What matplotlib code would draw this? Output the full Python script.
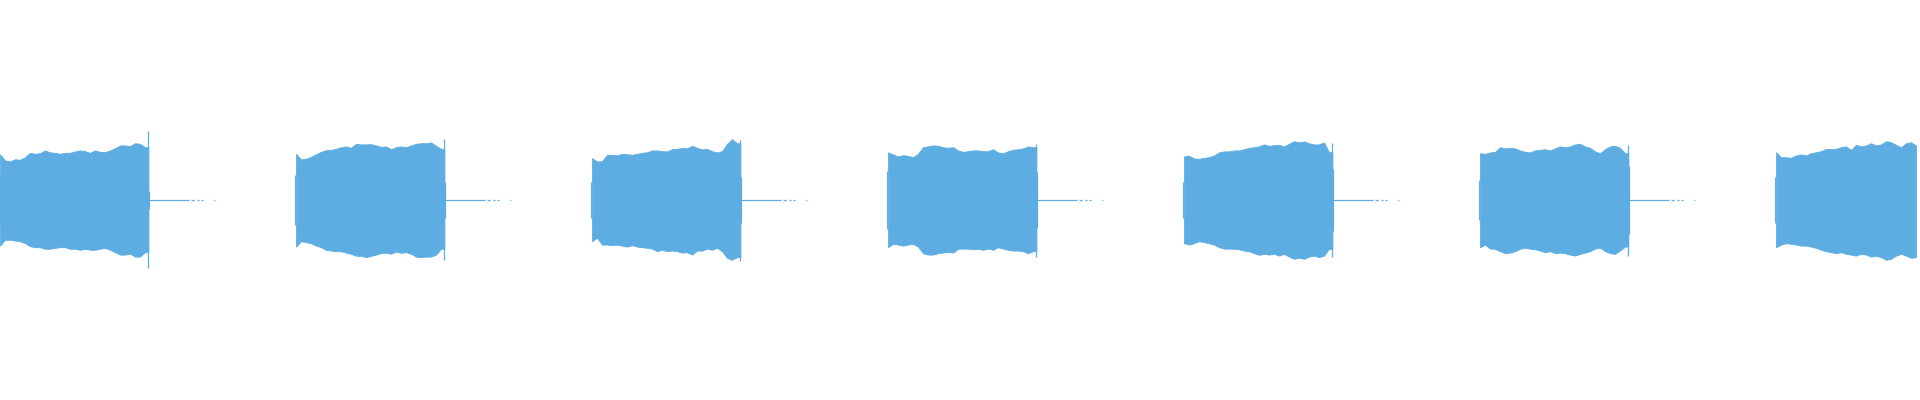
import numpy as np
import matplotlib
matplotlib.use("Agg")
import matplotlib.pyplot as plt

COLOR = "#5DADE2"

# one beep per second, envelope in % of full scale
onsets = [0, 1, 2, 3, 4, 5, 6]
spike_t = 0.5044     # click at the end of each beep (s after onset)
endcol_t = 0.508

b1_up = [22.8, 19.8, 19.3, 20.4, 20.1, 21.4, 23.6, 23.1, 23.4, 24.8, 23.8, 23.6, 23.1, 23.6, 23.6,
         24.3, 24.8, 24.4, 23.6, 24.8, 24.1, 23.9, 24.8, 25.9, 27.3, 27.3, 26.9, 28.4, 28.1, 26.4]
b1_lo = [22.8, 19.9, 19.9, 20.3, 20.6, 21.6, 23.1, 23.6, 23.6, 24.4, 24.4, 23.9, 23.6, 23.6, 24.4,
         24.4, 24.9, 24.4, 24.9, 24.9, 24.4, 23.9, 24.9, 26.1, 27.3, 27.3, 26.9, 28.3, 28.3, 26.1]

b2_up = [23.1, 20.3, 20.6, 21.6, 22.9, 24.1, 24.9, 25.1, 25.6, 26.4, 26.8, 26.1, 28.1, 27.8, 27.8,
         27.9, 27.3, 26.6, 26.8, 25.4, 26.4, 26.8, 26.4, 27.3, 28.1, 28.4, 28.4, 28.8, 27.1, 25.6]
b2_lo = [23.3, 20.6, 21.1, 21.6, 22.8, 23.6, 24.9, 25.3, 25.6, 25.6, 26.3, 26.9, 27.9, 27.9, 28.6,
         27.9, 27.3, 26.6, 26.3, 26.9, 25.8, 26.4, 26.1, 26.9, 28.3, 28.6, 28.3, 28.3, 27.3, 24.4]

b3_up = [20.9, 19.3, 19.4, 22.6, 22.6, 22.3, 23.1, 22.9, 22.6, 23.1, 23.6, 23.9, 24.8, 24.8, 24.4,
         24.3, 25.4, 25.6, 26.1, 25.8, 27.1, 26.1, 25.3, 25.6, 24.4, 23.8, 24.4, 28.1, 30.4, 28.4]
b3_lo = [20.6, 18.9, 22.3, 22.3, 22.6, 22.3, 22.8, 23.3, 22.6, 23.3, 23.6, 23.9, 24.3, 25.6, 24.9,
         25.6, 25.3, 25.6, 26.3, 26.1, 27.3, 25.3, 25.3, 24.3, 24.9, 23.9, 25.6, 28.9, 29.9, 28.6]

b4_up = [23.8, 22.8, 21.8, 22.4, 22.1, 21.4, 23.1, 26.4, 26.8, 27.3, 27.1, 26.4, 26.1, 26.4, 24.8,
         24.1, 24.4, 24.8, 24.8, 24.4, 24.4, 25.4, 23.8, 23.4, 24.4, 25.1, 25.4, 25.8, 26.8, 26.4]
b4_lo = [23.6, 21.9, 22.3, 22.8, 22.3, 21.9, 23.3, 26.6, 27.3, 27.3, 26.6, 26.3, 25.9, 26.3, 24.4,
         24.3, 24.3, 24.6, 24.4, 24.9, 24.3, 24.9, 23.6, 24.3, 24.9, 25.3, 25.3, 25.6, 26.6, 25.6]

b5_up = [21.8, 22.1, 20.8, 20.6, 21.1, 21.4, 22.3, 23.8, 24.3, 24.3, 24.8, 24.8, 25.4, 26.1, 26.4,
         26.8, 27.8, 27.1, 27.4, 27.6, 26.8, 28.1, 29.4, 28.8, 29.3, 28.4, 27.8, 27.8, 28.8, 23.9]
b5_lo = [21.6, 22.3, 21.6, 20.6, 21.1, 21.6, 22.3, 23.6, 24.3, 24.3, 24.4, 24.6, 25.3, 25.6, 26.6,
         27.4, 26.9, 27.3, 26.9, 27.8, 26.9, 28.3, 29.4, 28.9, 29.4, 28.3, 27.8, 28.6, 27.8, 24.4]

b6_up = [23.4, 23.1, 23.8, 24.1, 26.4, 25.8, 26.1, 25.8, 24.8, 24.1, 23.8, 24.8, 25.1, 25.4, 24.8,
         25.8, 26.8, 26.4, 26.8, 27.8, 28.1, 26.8, 26.1, 24.3, 23.4, 25.4, 26.8, 27.1, 26.1, 23.4]
b6_lo = [23.6, 22.3, 24.3, 24.4, 25.6, 26.6, 26.3, 25.6, 24.4, 23.9, 24.3, 24.6, 25.3, 26.1, 25.6,
         26.6, 26.3, 26.6, 27.3, 27.8, 26.9, 26.3, 25.6, 24.3, 23.9, 25.6, 26.6, 26.9, 25.3, 23.3]

b7_up = [23.9, 21.4, 21.4, 21.1, 22.3, 22.8, 22.3, 23.4, 23.9, 24.4, 25.6, 25.4, 25.6, 26.4, 26.8,
         25.1, 27.6, 26.8, 27.3, 28.4, 27.3, 27.8, 29.4, 28.9, 27.6, 26.4, 28.4, 28.9, 27.3]
b7_lo = [23.6, 22.3, 21.6, 21.9, 22.3, 22.8, 22.8, 23.3, 23.9, 24.9, 25.6, 26.1, 26.6, 26.1, 26.9,
         27.3, 27.8, 26.9, 27.3, 28.3, 27.9, 28.6, 29.9, 29.4, 27.8, 26.9, 27.8, 28.9, 28.6]

start_amp = [12.0, 12.3, 8.9, 14.6, 9.2, 9.8, 11.5]
spike_up = [34.3, 30.3, 29.8, 27.8, 28.4, 27.3]
spike_lo = [34.1, 29.9, 30.3, 28.3, 28.6, 27.8]
end_amp = [4.4, 8.8, 11.3, 14.1, 15.6, 17.0]

# low-level residue after each beep (start, end in s after onset)
tail_segs = [(0.507, 0.642), (0.649, 0.659), (0.668, 0.676), (0.682, 0.689), (0.726, 0.730)]

ups = [b1_up, b2_up, b3_up, b4_up, b5_up, b6_up, b7_up]
los = [b1_lo, b2_lo, b3_lo, b4_lo, b5_lo, b6_lo, b7_lo]

px = 1 / 296.0  # seconds per pixel column
env_t = px + np.arange(30) * 5 * px

fig = plt.figure(figsize=(19.2, 4), dpi=100)
ax = fig.add_axes([0, 0, 1, 1])

for i, t0 in enumerate(onsets):
    up = np.array(ups[i]) / 100
    lo = np.array(los[i]) / 100
    t = t0 + env_t[:len(up)]
    if i < len(spike_up):
        t = np.append(t, t0 + spike_t)
        up = np.append(up, up[-1])
        lo = np.append(lo, lo[-1])
    ax.fill_between(t, -lo, up, color=COLOR, lw=0.6, edgecolor=COLOR)
    ax.vlines(t0 + 0.5 * px, -start_amp[i] / 100, start_amp[i] / 100, color=COLOR, lw=0.75)
    if i < len(spike_up):
        ax.vlines(t0 + spike_t, -spike_lo[i] / 100, spike_up[i] / 100, color=COLOR, lw=0.9)
        ax.vlines(t0 + endcol_t, -end_amp[i] / 100, end_amp[i] / 100, color=COLOR, lw=0.9)
        for a, b in tail_segs:
            ax.hlines(0, t0 + a, t0 + b, color=COLOR, lw=0.9)

ax.set_xlim(px, 1921 * px)
ax.set_ylim(-1, 1)
ax.axis("off")

fig.savefig("out.png", dpi=100, facecolor="white")
